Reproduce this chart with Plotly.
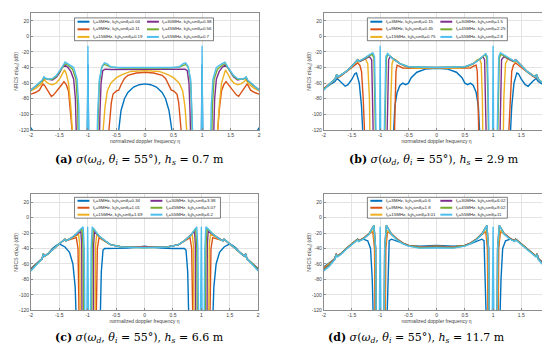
import plotly.graph_objects as go

# ---------------- data (half spectrum, eta >= 0; chart is symmetric) -------------
FC = ["3", "9", "15", "30", "45", "55"]
COLORS = ["#0072BD", "#D95319", "#EDB120", "#7E2F8E", "#77AC30", "#4DBEEE"]

KH_A = ["0.04", "0.11", "0.19", "0.38", "0.56", "0.7"]
KH_B = ["0.15", "0.45", "0.75", "1.5", "2.25", "2.8"]
KH_C = ["0.34", "1.01", "1.69", "3.38", "5.07", "6.2"]
KH_D = ["0.6", "1.8", "3.01", "6.02", "9.02", "11"]

CAPTIONS = ["(a)", "(b)", "(c)", "(d)"]
HS = ["0.7", "2.9", "6.6", "11.7"]

X_TICKS = [-2, -1.5, -1, -0.5, 0, 0.5, 1, 1.5, 2]
Y_TICKS = [-120, -100, -80, -60, -40, -20, 0, 20]

# ---- panel (a) ----
A1_X = [0, 0.1, 0.2, 0.3, 0.36, 0.42, 0.46, 0.5, 0.985, 0.995, 1.0, 1.005, 1.015, 1.9, 1.96, 2.0]
A1_Y = [-61, -62, -65, -72, -80, -95, -120, -135, -135, -80, -36, -80, -135, -135, -122, -117]
A2_X = [0, 0.15, 0.3, 0.36, 0.42, 0.46, 0.5, 0.53, 0.56, 0.59, 0.62, 0.65, 1.26, 1.3, 1.34, 1.38, 1.42, 1.48, 1.55, 1.6, 1.64, 1.7, 1.76, 1.79, 1.85, 1.92, 2.0]
A2_Y = [-46, -47, -50, -54, -62, -69, -70, -72, -74, -85, -110, -135, -135, -95, -70, -62, -58, -64, -71, -75, -77, -70, -63, -61, -69, -72, -74]
A3_X = [0, 0.25, 0.4, 0.5, 0.6, 0.66, 0.7, 0.73, 0.75, 1.26, 1.3, 1.34, 1.38, 1.41, 1.45, 1.5, 1.56, 1.62, 1.68, 1.74, 1.77, 1.8, 1.9, 2.0]
A3_Y = [-44, -45, -49, -53, -60, -70, -90, -120, -135, -135, -90, -60, -48, -43, -48, -55, -60, -62, -61, -58, -55, -60, -66, -70]
A4_X = [0, 0.3, 0.6, 0.7, 0.74, 0.77, 0.79, 0.8, 1.2, 1.22, 1.25, 1.3, 1.35, 1.4, 1.45, 1.5, 1.55, 1.62, 1.7, 1.75, 1.77, 1.8, 1.9, 2.0]
A4_Y = [-42.5, -42.5, -42.5, -42, -44, -60, -100, -135, -135, -80, -55, -45, -40, -37, -40, -47, -52, -56, -55, -54, -53, -57, -63, -69]
A5_X = [0, 0.4, 0.6, 0.68, 0.72, 0.76, 0.8, 0.82, 0.83, 1.17, 1.18, 1.21, 1.27, 1.35, 1.4, 1.45, 1.5, 1.55, 1.62, 1.7, 1.76, 1.77, 1.8, 1.9, 2.0]
A5_Y = [-40.5, -40.5, -39.5, -37, -36, -40, -60, -100, -135, -135, -90, -55, -42, -37, -35, -40, -46, -51, -55, -55, -54, -52, -57, -63, -69]
A6_X = [0, 0.5, 0.6, 0.67, 0.71, 0.75, 0.8, 0.83, 0.84, 0.99, 0.995, 1.0, 1.005, 1.01, 1.15, 1.16, 1.19, 1.25, 1.35, 1.4, 1.45, 1.5, 1.55, 1.62, 1.7, 1.76, 1.77, 1.8, 1.9, 2.0]
A6_Y = [-40, -40, -39, -35, -34, -38, -55, -100, -135, -135, -60, -12, -60, -135, -135, -90, -55, -40, -35, -33, -39, -45, -50, -54, -55, -53, -52, -56, -62, -69]

# ---- panel (b) ----
B1_X = [0, 0.2, 0.35, 0.45, 0.5, 0.55, 0.6, 0.65, 0.7, 0.74, 0.76, 0.78, 1.3, 1.33, 1.37, 1.42, 1.45, 1.5, 1.57, 1.62, 1.7, 1.76, 1.8, 1.9, 2.0]
B1_Y = [-41, -42, -46, -53, -60, -62, -60, -63, -72, -90, -120, -135, -135, -90, -60, -47, -48, -55, -62, -64, -58, -54, -58, -63, -67]
B2_X = [0, 0.4, 0.6, 0.66, 0.7, 0.72, 0.74, 0.75, 1.27, 1.3, 1.33, 1.36, 1.4, 1.45, 1.5, 1.6, 1.7, 1.75, 1.77, 1.8, 1.9, 2.0]
B2_Y = [-41, -41, -40.5, -38, -37, -45, -90, -135, -135, -80, -45, -37, -34, -37, -40, -46, -51, -53, -50, -55, -61, -67]
B3_X = [0, 0.4, 0.55, 0.65, 0.72, 0.76, 0.79, 0.81, 0.82, 1.18, 1.19, 1.22, 1.26, 1.3, 1.38, 1.4, 1.45, 1.5, 1.6, 1.7, 1.75, 1.77, 1.8, 1.9, 2.0]
B3_Y = [-40.5, -40.5, -39, -35, -30, -29, -35, -80, -135, -135, -80, -35, -29, -30, -33, -31, -35, -38, -45, -50, -52, -49, -55, -61, -68]
B4_X = [0, 0.5, 0.65, 0.75, 0.82, 0.85, 0.87, 0.88, 1.12, 1.13, 1.15, 1.19, 1.25, 1.35, 1.4, 1.45, 1.5, 1.6, 1.7, 1.75, 1.77, 1.8, 1.9, 2.0]
B4_Y = [-40, -39.5, -35, -30, -26, -30, -80, -135, -135, -80, -30, -26, -28, -32, -30, -34, -38, -45, -50, -52, -49, -55, -61, -68]
B5_X = [0, 0.5, 0.65, 0.75, 0.82, 0.86, 0.89, 0.91, 0.92, 1.08, 1.09, 1.11, 1.14, 1.2, 1.3, 1.38, 1.4, 1.45, 1.5, 1.6, 1.7, 1.75, 1.77, 1.8, 1.9, 2.0]
B5_Y = [-40, -39, -35, -30, -26, -23, -28, -80, -135, -135, -80, -28, -23, -25, -29, -32, -30, -34, -38, -45, -50, -52, -49, -55, -61, -68]
B6_X = [0, 0.5, 0.65, 0.75, 0.82, 0.87, 0.9, 0.92, 0.93, 0.99, 0.995, 1.0, 1.005, 1.01, 1.07, 1.08, 1.1, 1.13, 1.2, 1.3, 1.38, 1.4, 1.45, 1.5, 1.6, 1.7, 1.75, 1.77, 1.8, 1.9, 2.0]
B6_Y = [-40, -39, -35, -30, -26, -22, -26, -80, -135, -135, -50, -12, -50, -135, -135, -80, -26, -21, -24, -29, -32, -30, -34, -38, -45, -50, -52, -49, -55, -61, -69]

# ---- panel (c) ----
C1_X = [0, 0.1, 0.3, 0.5, 0.7, 0.73, 0.76, 0.78, 1.2, 1.22, 1.26, 1.32, 1.4, 1.5, 1.55, 1.62, 1.7, 1.76, 1.78, 1.8, 1.9, 2.0]
C1_Y = [-37, -38, -39.5, -40, -40, -42, -70, -135, -135, -90, -60, -45, -38, -34, -36, -40, -47, -50, -47, -53, -60, -66]
C2_X = [0, 0.4, 0.6, 0.7, 0.78, 0.8, 0.83, 0.85, 1.15, 1.17, 1.2, 1.3, 1.38, 1.4, 1.45, 1.5, 1.6, 1.7, 1.76, 1.78, 1.8, 1.9, 2.0]
C2_Y = [-38, -38, -35, -31, -27, -26, -40, -135, -135, -40, -26, -28, -30, -28, -31, -34, -40, -47, -50, -47, -53, -60, -67]
C3_X = [0, 0.4, 0.6, 0.7, 0.8, 0.84, 0.86, 0.87, 1.13, 1.14, 1.16, 1.2, 1.3, 1.38, 1.4, 1.45, 1.5, 1.6, 1.7, 1.76, 1.78, 1.8, 1.9, 2.0]
C3_Y = [-38.5, -38, -35, -30, -25, -22, -35, -135, -135, -35, -22, -23, -27, -30, -28, -31, -34, -40, -47, -50, -47, -53, -60, -67]
C4_X = [0, 0.4, 0.6, 0.7, 0.8, 0.88, 0.895, 0.9, 1.1, 1.105, 1.12, 1.2, 1.3, 1.38, 1.4, 1.45, 1.5, 1.6, 1.7, 1.76, 1.78, 1.8, 1.9, 2.0]
C4_Y = [-38.5, -38, -35, -30, -24, -18, -35, -135, -135, -35, -18, -22, -27, -30, -28, -31, -34, -40, -47, -50, -47, -53, -60, -67]
C5_X = [0, 0.4, 0.6, 0.7, 0.8, 0.9, 0.92, 0.93, 1.07, 1.08, 1.1, 1.2, 1.3, 1.38, 1.4, 1.45, 1.5, 1.6, 1.7, 1.76, 1.78, 1.8, 1.9, 2.0]
C5_Y = [-39, -38, -35, -30, -24, -14, -40, -135, -135, -40, -14, -21, -27, -30, -28, -31, -34, -40, -47, -50, -47, -53, -60, -68]
C6_X = [0, 0.4, 0.6, 0.7, 0.8, 0.92, 0.94, 0.95, 0.985, 0.995, 1.0, 1.005, 1.015, 1.05, 1.06, 1.08, 1.2, 1.3, 1.38, 1.4, 1.45, 1.5, 1.6, 1.7, 1.76, 1.78, 1.8, 1.9, 2.0]
C6_Y = [-39, -38, -35, -30, -24, -12, -40, -135, -135, -50, -12, -50, -135, -135, -40, -12, -21, -27, -30, -28, -31, -34, -40, -47, -50, -47, -53, -61, -69]

# ---- panel (d) ----
D1_X = [0, 0.3, 0.5, 0.6, 0.7, 0.8, 0.84, 0.86, 0.88, 1.12, 1.14, 1.17, 1.22, 1.3, 1.38, 1.4, 1.45, 1.5, 1.6, 1.7, 1.76, 1.78, 1.8, 1.9, 2.0]
D1_Y = [-36, -37, -36, -34, -31, -28, -30, -80, -135, -135, -80, -40, -30, -28, -30, -28, -31, -34, -40, -47, -50, -47, -53, -59, -64]
D2_X = [0, 0.3, 0.5, 0.6, 0.7, 0.8, 0.87, 0.9, 0.91, 1.09, 1.1, 1.13, 1.2, 1.3, 1.38, 1.4, 1.45, 1.5, 1.6, 1.7, 1.76, 1.78, 1.8, 1.9, 2.0]
D2_Y = [-37, -38, -36, -33, -28, -22, -18, -40, -135, -135, -40, -18, -21, -27, -30, -28, -31, -34, -40, -47, -50, -47, -53, -60, -65]
D3_X = [0, 0.3, 0.5, 0.6, 0.7, 0.8, 0.88, 0.91, 0.92, 1.08, 1.09, 1.12, 1.2, 1.3, 1.38, 1.4, 1.45, 1.5, 1.6, 1.7, 1.76, 1.78, 1.8, 1.9, 2.0]
D3_Y = [-37.5, -38, -36, -33, -28, -21, -17, -40, -135, -135, -40, -17, -21, -27, -30, -28, -31, -34, -40, -47, -50, -47, -53, -60, -66]
D4_X = [0, 0.3, 0.5, 0.6, 0.7, 0.8, 0.89, 0.92, 0.93, 1.07, 1.08, 1.11, 1.2, 1.3, 1.38, 1.4, 1.45, 1.5, 1.6, 1.7, 1.76, 1.78, 1.8, 1.9, 2.0]
D4_Y = [-38, -38.5, -36, -33, -28, -21, -10, -40, -135, -135, -40, -10, -21, -27, -30, -28, -31, -34, -40, -47, -50, -47, -53, -61, -67]
D5_X = [0, 0.3, 0.5, 0.6, 0.7, 0.8, 0.89, 0.92, 0.93, 1.07, 1.08, 1.11, 1.2, 1.3, 1.38, 1.4, 1.45, 1.5, 1.6, 1.7, 1.76, 1.78, 1.8, 1.9, 2.0]
D5_Y = [-38.5, -39, -36.5, -33.5, -28.5, -21.5, -10, -40, -135, -135, -40, -10, -21.5, -27.5, -30.5, -28.5, -31.5, -34.5, -40.5, -47.5, -50.5, -47.5, -53.5, -62, -68]
D6_X = [0, 0.3, 0.5, 0.6, 0.7, 0.8, 0.89, 0.92, 0.93, 0.985, 0.995, 1.0, 1.005, 1.015, 1.07, 1.08, 1.11, 1.2, 1.3, 1.38, 1.4, 1.45, 1.5, 1.6, 1.7, 1.76, 1.78, 1.8, 1.9, 2.0]
D6_Y = [-39, -39.5, -37, -34, -29, -22, -10, -40, -135, -135, -50, -12, -50, -135, -135, -40, -10, -22, -28, -31, -29, -32, -35, -41, -48, -51, -48, -54, -63, -69]

PANELS = [
    [(A1_X, A1_Y), (A2_X, A2_Y), (A3_X, A3_Y), (A4_X, A4_Y), (A5_X, A5_Y), (A6_X, A6_Y)],
    [(B1_X, B1_Y), (B2_X, B2_Y), (B3_X, B3_Y), (B4_X, B4_Y), (B5_X, B5_Y), (B6_X, B6_Y)],
    [(C1_X, C1_Y), (C2_X, C2_Y), (C3_X, C3_Y), (C4_X, C4_Y), (C5_X, C5_Y), (C6_X, C6_Y)],
    [(D1_X, D1_Y), (D2_X, D2_Y), (D3_X, D3_Y), (D4_X, D4_Y), (D5_X, D5_Y), (D6_X, D6_Y)],
]
KH = [KH_A, KH_B, KH_C, KH_D]


def mirror(xs, ys):
    fx = [-v for v in reversed(xs[1:])] + list(xs)
    fy = list(reversed(ys[1:])) + list(ys)
    return fx, fy


# ---------------- layout geometry (paper px, 550 x 344) ----------------
W, H = 550, 344
AREAS = [(21, 251, 5, 123), (316, 543.5, 5, 123), (21, 250, 188, 305), (316, 543.5, 188, 305)]
LEG_BOX = [(65, 205, 10, 33), (360, 501, 10, 33), (65, 212, 191, 212), (360, 501, 191, 212)]
CAP_POS = [(130, 153), (427, 153), (130, 333), (409, 333)]


def px(x):
    return x / W


def py(y):
    return 1 - y / H


fig = go.Figure()
layout = dict(
    width=W, height=H, margin=dict(l=0, r=0, t=0, b=0),
    paper_bgcolor="white", plot_bgcolor="white", showlegend=False,
    font=dict(family="Liberation Sans, Arial, sans-serif", color="#262626"),
)
shapes = []
annotations = []

for p in range(4):
    ax = "" if p == 0 else str(p + 1)
    x0, x1, yt, yb = AREAS[p]
    for i, (xs, ys) in enumerate(PANELS[p]):
        fx, fy = mirror(xs, ys)
        fig.add_trace(go.Scatter(
            x=fx, y=fy, mode="lines", xaxis="x" + ax, yaxis="y" + ax,
            line=dict(color=COLORS[i], width=1.4),
            name=f"f<sub>c</sub>={FC[i]}MHz, k<sub>0</sub>h<sub>s</sub>sinθ<sub>i</sub>={KH[p][i]}",
        ))
    common = dict(showgrid=True, gridcolor="#e3e3e3", gridwidth=0.6,
                  showline=True, linecolor="#8c8c8c", linewidth=0.7, mirror=True,
                  ticks="inside", ticklen=2, tickcolor="#8c8c8c",
                  tickfont=dict(size=5, color="#404040"), zeroline=False)
    layout["xaxis" + ax] = dict(
        common, domain=[px(x0), px(x1)], anchor="y" + ax, range=[-2, 2],
        tickvals=X_TICKS, ticktext=[str(v) for v in X_TICKS],
        title=dict(text="normalized doppler frequency η", font=dict(size=5, color="#404040"), standoff=0),
    )
    layout["yaxis" + ax] = dict(
        common, domain=[py(yb), py(yt)], anchor="x" + ax, range=[-120, 30],
        tickvals=Y_TICKS, ticktext=[str(v) for v in Y_TICKS],
        title=dict(text="NRCS σ(ω<sub>d</sub>) (dB)", font=dict(size=5, color="#404040"), standoff=0),
    )
    # legend box
    lx0, lx1, ly0, ly1 = LEG_BOX[p]
    shapes.append(dict(type="rect", xref="paper", yref="paper",
                       x0=px(lx0), x1=px(lx1), y0=py(ly1), y1=py(ly0),
                       line=dict(color="#262626", width=0.6), fillcolor="white", layer="above"))
    colw = (lx1 - lx0) / 2
    rowh = (ly1 - ly0) / 3
    for i in range(6):
        c, r = divmod(i, 3)
        sx = lx0 + 3 + c * colw
        sy = ly0 + rowh * (r + 0.5)
        shapes.append(dict(type="line", xref="paper", yref="paper",
                           x0=px(sx), x1=px(sx + 12), y0=py(sy), y1=py(sy),
                           line=dict(color=COLORS[i], width=2), layer="above"))
        annotations.append(dict(
            xref="paper", yref="paper", x=px(sx + 13.5), y=py(sy), xanchor="left", yanchor="middle",
            showarrow=False, font=dict(size=4.4, color="#262626"),
            text=f"f<sub>c</sub>={FC[i]}MHz, k<sub>0</sub>h<sub>s</sub>sinθ<sub>i</sub>={KH[p][i]}",
        ))
    # caption
    cx, cy = CAP_POS[p]
    annotations.append(dict(
        xref="paper", yref="paper", x=px(cx), y=py(cy), xanchor="center", yanchor="middle",
        showarrow=False, font=dict(size=11, family="DejaVu Serif, Liberation Serif, serif", color="black"),
        text=f"<b>{CAPTIONS[p]}</b> <i>σ</i>(<i>ω<sub>d</sub></i>, <i>θ<sub>i</sub></i> = 55°), <i>h<sub>s</sub></i> = {HS[p]} m",
    ))

layout["shapes"] = shapes
layout["annotations"] = annotations
fig.update_layout(**layout)
fig.write_html("out.html")
